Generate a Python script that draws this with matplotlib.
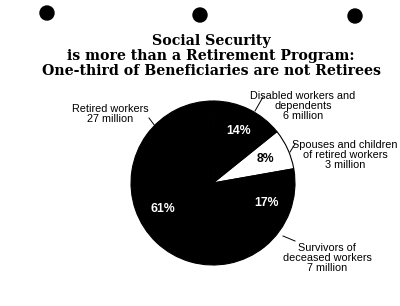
import numpy as np
import matplotlib.pyplot as plt

# data
categories = ['Spouses and children\nof retired workers\n3 million',
              'Disabled workers and\ndependents\n6 million',
              'Retired workers\n27 million',
              'Survivors of\ndeceased workers\n7 million']
shares = [8, 14, 61, 17]
colors = ['white', 'black', 'black', 'black']
pct_colors = ['black', 'white', 'white', 'white']

W, H = 400, 306
fig = plt.figure(figsize=(4.0, 3.06), dpi=100)
ax = fig.add_axes([0, 0, 1, 1])
ax.set_xlim(0, W)
ax.set_ylim(0, H)
ax.set_aspect('equal')
ax.axis('off')

def Y(y):
    return H - y

# punch holes
for hx, hy in [(47, 13), (200, 15), (355, 16)]:
    ax.add_patch(plt.Circle((hx, Y(hy)), 7, color='black'))

title = ('Social Security\nis more than a Retirement Program:\n'
         'One-third of Beneficiaries are not Retirees')
ax.text(211, Y(56), title, ha='center', va='center', fontsize=10.2,
        fontweight='bold', family='DejaVu Serif', linespacing=1.05)

wedges, texts, autotexts = ax.pie(shares, colors=colors, startangle=10,
                                  center=(213, Y(183)), radius=82,
                                  autopct='%.0f%%', pctdistance=0.7,
                                  wedgeprops=dict(edgecolor='black', linewidth=0.8),
                                  textprops=dict(fontsize=8.8, fontweight='bold',
                                                 family='Liberation Sans'))
for t, c in zip(autotexts, pct_colors):
    t.set_color(c)
# the 61% label sits a bit lower in the original
autotexts[2].set_position((163, Y(209)))
ax.set_xlim(0, W)
ax.set_ylim(0, H)

lab_pos = [(345, 155), (303, 106), (110, 114), (327, 258)]
leaders = [((295, 144), (290, 152)), ((263, 97), (255, 111)),
           ((149, 118), (155, 126)), ((283, 236), (295, 241))]
for lab, (lx, ly), (p0, p1) in zip(categories, lab_pos, leaders):
    ax.text(lx, Y(ly), lab, ha='center', va='center', fontsize=7.8,
            family='Liberation Sans', linespacing=1.05)
    ax.plot([p0[0], p1[0]], [Y(p0[1]), Y(p1[1])], color='black', lw=0.7)

fig.savefig('out.png', dpi=100)
